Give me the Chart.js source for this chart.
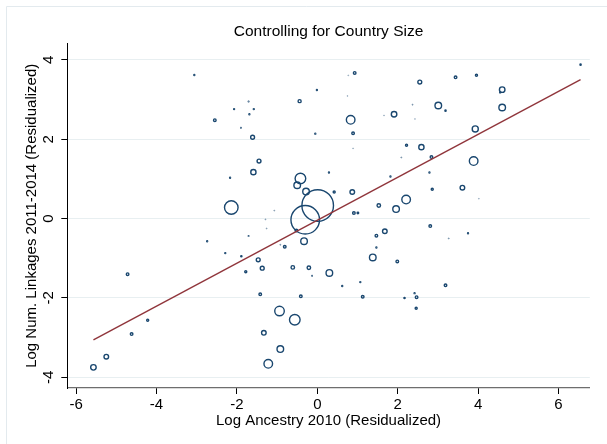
<!DOCTYPE html>
<html>
<head>
<meta charset="utf-8">
<script src="https://cdn.jsdelivr.net/npm/chart.js@4.4.1/dist/chart.umd.min.js"></script>
<style>
  html, body { margin: 0; padding: 0; background: #fff; }
  #wrap { width: 607px; height: 444px; }
</style>
</head>
<body>
<div id="wrap"><canvas id="chart" width="607" height="444"></canvas></div>
<script>
// Residualized log ancestry (x), residualized log linkages (y), country size weight
const ancestry = [
  -3.06, -2.07, -2.55, -2.17, -2.14, 0.93, 0.77, -0.01, -1.71, -0.44,
  -1.58, -1.69, 0.83, 1.91, 0.75, 1.66, -1.90, -0.05, 0.89, -1.61,
  0.89, -1.45, 2.09, 2.22, -1.59, -0.42, -0.50, 0.29, 1.82, -0.28,
  0.42, 0.87, 0.01, -0.30, 1.53, 1.96, 2.21, 0.91, 1.01, -1.07,
  -1.29, 6.55, 2.55, 3.44, 3.96, 4.60, 4.55, 4.60, 3.01, 3.19,
  2.37, 2.43, 3.93, 2.59, 2.84, 3.89, 2.79, 2.86, 3.61, 4.02,
  -2.74, -2.29, -4.72, -4.22, -4.62, -5.25, -5.57, -1.26, -1.71, -0.52,
  -0.33, -0.92, -0.81, -1.89, -1.47, -1.37, -1.78, -0.61, -0.21, -0.13,
  0.30, 1.47, 1.68, 1.47, 1.38, 1.99, 0.62, 1.07, -1.42, -0.41,
  1.13, 2.17, -0.94, -0.56, -1.33, -0.92, -1.22, 2.81, 3.27, 3.75,
  3.19, 2.42, 2.47, 2.46
];
const linkages = [
  3.62, 2.76, 2.48, 1.03, 0.28, 3.67, 3.61, 3.24, 2.95, 2.96,
  2.76, 2.63, 2.49, 2.63, 3.09, 2.60, 2.29, 2.14, 2.15, 2.05,
  1.77, 1.45, 1.54, 1.85, 1.17, 1.01, 0.84, 1.16, 1.06, 0.68,
  0.67, 0.67, 0.33, -0.03, 0.33, 0.24, 0.48, 0.14, 0.14, 0.20,
  -0.02, 3.88, 3.44, 3.56, 3.61, 3.25, 3.18, 2.80, 2.85, 2.72,
  2.87, 2.51, 2.26, 1.80, 1.55, 1.45, 1.16, 0.74, 0.78, 0.50,
  -0.57, -0.87, -1.40, -2.56, -2.91, -3.48, -3.75, -0.25, -0.44, -0.30,
  -0.57, -0.66, -0.71, -0.95, -1.04, -1.25, -1.34, -1.23, -1.24, -1.44,
  -1.37, -0.43, -0.32, -0.73, -0.98, -1.08, -1.70, -1.60, -1.91, -1.96,
  -1.97, -2.00, -2.33, -2.55, -2.88, -3.29, -3.66, -0.19, -0.50, -0.37,
  -1.68, -1.88, -1.98, -2.26
];
const countrySize = [
  1.4, 1.4, 4, 1.4, 56, 4, 0.4, 1.4, 1, 5,
  1.4, 1.4, 25, 12, 0.4, 0.4, 1, 1.4, 4, 7,
  0.4, 7, 0.6, 3, 11, 36, 16, 1.4, 1.4, 16,
  3, 9, 272, 225, 6, 16, 25, 4, 2.2, 0.5,
  0.5, 1.7, 7, 4, 3, 12, 1.4, 16, 16, 1.7,
  0.6, 0.4, 14, 11, 4, 25, 1.4, 3, 9, 0.4,
  1.4, 1.4, 4, 3, 4, 9, 12, 0.5, 1, 4,
  16, 0.6, 4, 1.7, 7, 7, 3, 6, 6, 1,
  16, 4, 9, 1.4, 16, 4, 1.4, 1.4, 4, 4,
  4, 1.7, 30, 36, 9, 16, 25, 4, 0.6, 1.4,
  4, 1.4, 4, 3
];

// fitted line end points
const fitX = [-5.57, 6.55];
const fitY = [-3.06, 3.50];

const xTicks = [-6, -4, -2, 0, 2, 4, 6];
const yTicks = [-4, -2, 0, 2, 4];

const navy = '#1a476f';
const font = { family: "'Liberation Sans', Arial, Helvetica, sans-serif", size: 15 };

function borderFor(i) {
  const w = countrySize[i];
  return w < 1 ? w * 0.9 : 1.4;
}
function radiusFor(i) {
  return Math.max(0.3, Math.sqrt(countrySize[i]) - borderFor(i) / 2);
}

// light frame around the graph region
const frame = {
  id: 'frame',
  beforeDraw(chart) {
    const c = chart.ctx;
    c.save();
    c.fillStyle = '#fff';
    c.fillRect(0, 0, chart.width, chart.height);
    c.strokeStyle = '#e3eaee';
    c.lineWidth = 1;
    c.beginPath();
    c.moveTo(6.5, chart.height);
    c.lineTo(6.5, 6.5);
    c.lineTo(chart.width, 6.5);
    c.stroke();
    c.restore();
  }
};

new Chart(document.getElementById('chart'), {
  data: {
    datasets: [
      {
        type: 'scatter',
        order: 2,
        data: ancestry.map((x, i) => ({ x: x, y: linkages[i] })),
        borderColor: navy,
        backgroundColor: 'rgba(0,0,0,0)',
        pointRadius: ctx => radiusFor(ctx.dataIndex),
        pointBorderWidth: ctx => borderFor(ctx.dataIndex),
        pointHoverRadius: ctx => radiusFor(ctx.dataIndex)
      },
      {
        type: 'line',
        order: 1,
        data: fitX.map((x, i) => ({ x: x, y: fitY[i] })),
        borderColor: '#90353b',
        borderWidth: 1.4,
        pointRadius: 0,
        fill: false
      }
    ]
  },
  options: {
    responsive: false,
    animation: false,
    devicePixelRatio: 1,
    layout: { padding: { left: 0, right: 11, top: 0, bottom: 0 } },
    plugins: {
      legend: { display: false },
      tooltip: { enabled: false },
      title: {
        display: true,
        fullSize: false, // centre over the plot region, not the canvas
        text: 'Controlling for Country Size',
        color: '#000',
        font: { family: font.family, size: 15.5, weight: 'normal' },
        padding: { top: 22, bottom: 3 }
      }
    },
    scales: {
      x: {
        type: 'linear',
        min: -6.22,
        max: 6.78,
        afterBuildTicks: s => { s.ticks = xTicks.map(v => ({ value: v })); },
        afterFit: s => { s.height = 56; },
        grid: { drawOnChartArea: false, tickLength: 6, tickColor: '#000' },
        border: { color: '#6e6e6e', width: 1.2 },
        ticks: { color: '#000', font: font, padding: 2, maxRotation: 0 },
        title: {
          display: true,
          text: 'Log Ancestry 2010 (Residualized)',
          color: '#000',
          font: font,
          padding: { top: 0, bottom: 14 }
        }
      },
      y: {
        type: 'linear',
        min: -4.27,
        max: 4.41,
        afterBuildTicks: s => { s.ticks = yTicks.map(v => ({ value: v })); },
        afterFit: s => { s.width = 67.3; },
        grid: { color: '#e8eff1', lineWidth: 1, tickLength: 6, tickColor: '#000' },
        border: { color: '#000', width: 1 },
        ticks: { color: '#000', font: font, padding: 6, minRotation: 90, maxRotation: 90, crossAlign: 'center' },
        title: {
          display: true,
          text: 'Log Num. Linkages 2011-2014 (Residualized)',
          color: '#000',
          font: font,
          padding: { top: 23, bottom: 0 }
        }
      }
    }
  },
  plugins: [frame]
});
</script>
</body>
</html>
